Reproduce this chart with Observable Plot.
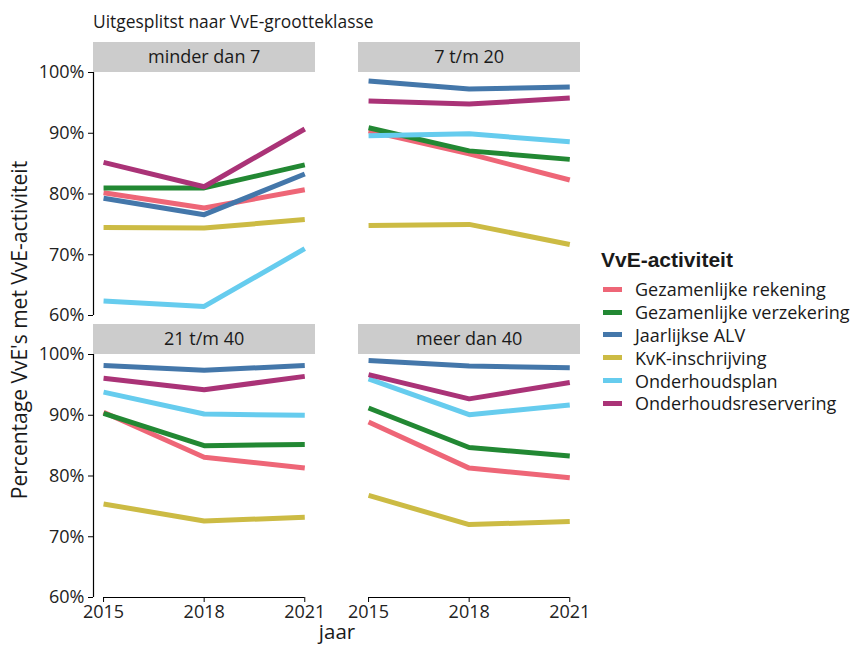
<!DOCTYPE html>
<html><head><meta charset="utf-8">
<script src="https://cdn.jsdelivr.net/npm/d3@7"></script>
<script src="https://cdn.jsdelivr.net/npm/@observablehq/plot@0.6"></script>
<style>
body{margin:0;background:#fff;font-family:"Open Sans",sans-serif;color:#1a1a1a;}
#wrap{position:relative;width:855px;height:646px;overflow:hidden;}
#subtitle{position:absolute;left:93px;top:10px;font-size:17.4px;line-height:22px;white-space:nowrap;}
#chart{position:absolute;left:0;top:40px;}
#ylab{position:absolute;left:19px;top:330px;transform:translate(-50%,-50%) rotate(-90deg);font-size:21px;white-space:nowrap;line-height:26px;}
#xlab{position:absolute;left:337px;top:631px;transform:translate(-50%,-50%);font-size:20.5px;line-height:25px;}
#legend{position:absolute;left:601px;top:246px;}
#legend .title{font-family:"Liberation Sans",Arial,sans-serif;font-weight:bold;font-size:21px;line-height:28px;margin-bottom:4px;}
#legend .item{display:flex;align-items:center;height:22.8px;font-size:18px;white-space:nowrap;}
#legend .sw{width:19px;height:5px;margin-left:2px;margin-right:13px;}
</style></head><body>
<div id="wrap">
  <div id="subtitle">Uitgesplitst naar VvE-grootteklasse</div>
  <div id="chart"></div>
  <div id="ylab">Percentage VvE's met VvE-activiteit</div>
  <div id="xlab">jaar</div>
  <div id="legend"></div>
</div>
<script>
const jaren = [2015, 2018, 2021];
const klassen = ["minder dan 7", "7 t/m 20", "21 t/m 40", "meer dan 40"];
const activiteiten = ["Gezamenlijke rekening", "Gezamenlijke verzekering", "Jaarlijkse ALV", "KvK-inschrijving", "Onderhoudsplan", "Onderhoudsreservering"];
const kleuren = ["#EE6677", "#228833", "#4477AA", "#CCBB44", "#66CCEE", "#AA3377"];
const yTicks = [60, 70, 80, 90, 100];

// percentages per grootteklasse (rows, in order of klassen) and jaar (columns)
const gezamenlijkeRekening    = [[80.2, 77.7, 80.7], [90.4, 86.6, 82.3], [90.5, 83.1, 81.3], [88.9, 81.3, 79.7]];
const gezamenlijkeVerzekering = [[81.0, 81.0, 84.8], [90.9, 87.1, 85.7], [90.3, 85.0, 85.2], [91.2, 84.7, 83.3]];
const jaarlijkseALV           = [[79.3, 76.6, 83.3], [98.6, 97.3, 97.6], [98.2, 97.4, 98.2], [99.0, 98.1, 97.8]];
const kvkInschrijving         = [[74.5, 74.4, 75.8], [74.8, 75.0, 71.7], [75.4, 72.6, 73.2], [76.8, 72.0, 72.5]];
const onderhoudsplan          = [[62.4, 61.5, 71.0], [89.6, 89.9, 88.6], [93.8, 90.2, 90.0], [96.0, 90.1, 91.7]];
const onderhoudsreservering   = [[85.2, 81.2, 90.7], [95.3, 94.8, 95.8], [96.1, 94.2, 96.4], [96.7, 92.7, 95.4]];

const reeksen = [gezamenlijkeRekening, gezamenlijkeVerzekering, jaarlijkseALV, kvkInschrijving, onderhoudsplan, onderhoudsreservering];

const data = [];
reeksen.forEach((reeks, a) => {
  reeks.forEach((rij, k) => {
    rij.forEach((v, j) => {
      data.push({activiteit: activiteiten[a], klasse: klassen[k], col: k % 2, row: Math.floor(k / 2), jaar: jaren[j], pct: v});
    });
  });
});
const facets = klassen.map((k, i) => ({klasse: k, col: i % 2, row: Math.floor(i / 2)}));

const xDomain = [2014.7, 2021.32];
const yTop = 104.94;

const chart = Plot.plot({
  width: 855, height: 606,
  marginTop: 2, marginBottom: 49, marginLeft: 93, marginRight: 275,
  style: {fontFamily: "Open Sans, sans-serif", fontSize: "18px", color: "#222", background: "transparent"},
  x: {domain: xDomain},
  y: {domain: [60, yTop]},
  fx: {domain: [0, 1], paddingInner: 43 / 265, paddingOuter: 0, round: false, axis: null},
  fy: {domain: [0, 1], paddingInner: 9 / 282, paddingOuter: 0, round: false, axis: null},
  color: {domain: activiteiten, range: kleuren},
  marks: [
    Plot.rect(facets, {fx: "col", fy: "row", x1: () => xDomain[0], x2: () => xDomain[1], y1: () => 100, y2: () => yTop, fill: "#cccccc"}),
    Plot.text(facets, {fx: "col", fy: "row", x: () => jaren[1], y: () => (100 + yTop) / 2, text: "klasse", fontSize: 18, fill: "#1a1a1a"}),
    Plot.ruleX(facets.filter(f => f.col === 0), {fx: "col", fy: "row", x: () => xDomain[0], y1: () => yTicks[0], y2: () => yTicks[yTicks.length - 1], stroke: "#000", strokeWidth: 1.2}),
    Plot.ruleY(facets.filter(f => f.row === 1), {fx: "col", fy: "row", y: () => yTicks[0], x1: () => jaren[0], x2: () => jaren[jaren.length - 1], stroke: "#000", strokeWidth: 1.2}),
    Plot.axisY({ticks: yTicks, tickFormat: d => d + "%", tickSize: 5, tickPadding: 4, label: null, stroke: "#000", fill: "#222", fontSize: 18}),
    Plot.axisX({ticks: jaren, tickFormat: d => String(d), tickSize: 5, tickPadding: 3, label: null, stroke: "#000", fill: "#222", fontSize: 18}),
    Plot.line(data, {fx: "col", fy: "row", x: "jaar", y: "pct", z: "activiteit", stroke: "activiteit", strokeWidth: 5, strokeLinecap: "butt", strokeLinejoin: "round"})
  ]
});
document.getElementById("chart").appendChild(chart);

const legend = document.getElementById("legend");
const t = document.createElement("div");
t.className = "title";
t.textContent = "VvE-activiteit";
legend.appendChild(t);
activiteiten.forEach((a, i) => {
  const it = document.createElement("div");
  it.className = "item";
  const sw = document.createElement("span");
  sw.className = "sw";
  sw.style.background = kleuren[i];
  const lab = document.createElement("span");
  lab.textContent = a;
  it.appendChild(sw);
  it.appendChild(lab);
  legend.appendChild(it);
});
</script>
</body></html>
